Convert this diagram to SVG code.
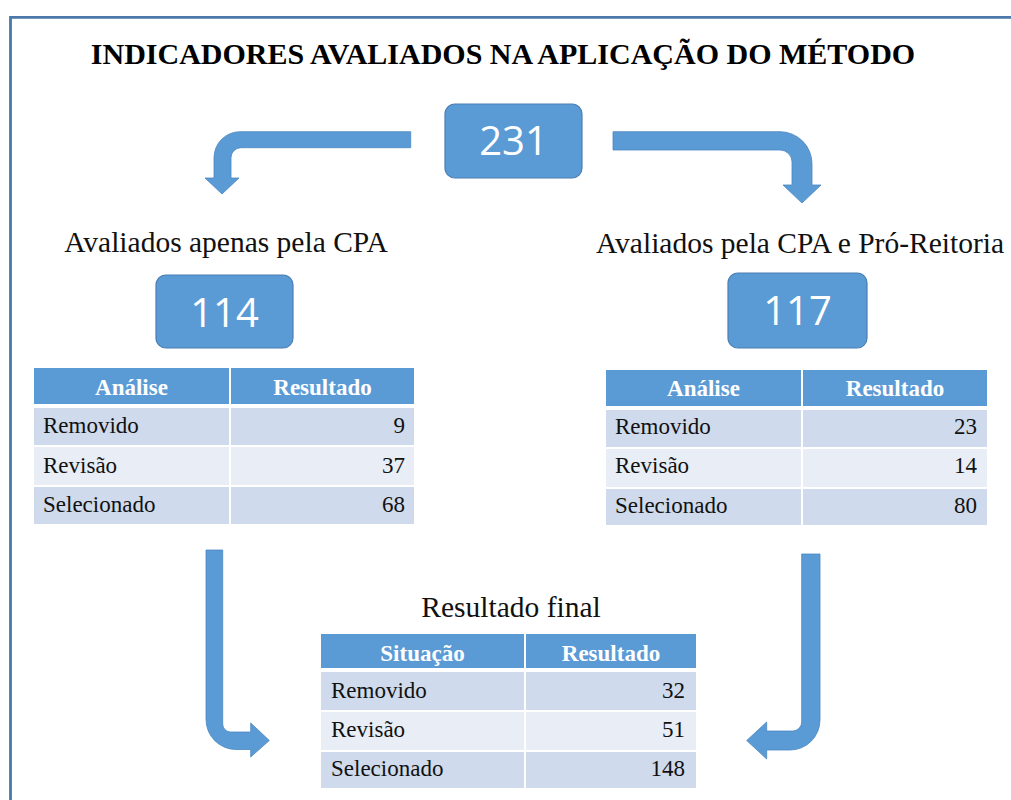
<svg xmlns="http://www.w3.org/2000/svg" width="1011" height="800" viewBox="0 0 1011 800">
<style>
.frame{fill:none;stroke:#4a78a8;stroke-width:2.8}
.arrow{fill:#5b9bd5;stroke:#4a86c2;stroke-width:0.8}
.box{fill:#5b9bd5;stroke:#4a7fb3;stroke-width:1.2}
.num{font-family:"Open Sans","Liberation Sans",sans-serif;font-size:40px;fill:#ffffff;text-anchor:middle}
.title{font-family:"Liberation Serif","Times New Roman",serif;font-size:30px;font-weight:bold;fill:#000;text-anchor:middle}
.label{font-family:"Liberation Serif","Times New Roman",serif;font-size:29.5px;fill:#111;text-anchor:middle}
.hd{fill:#5b9bd5}
.r1{fill:#cfdaec}
.r2{fill:#e8edf6}
.th{font-family:"Liberation Serif","Times New Roman",serif;font-size:23px;font-weight:bold;fill:#ffffff;text-anchor:middle}
.td{font-family:"Liberation Serif","Times New Roman",serif;font-size:23px;fill:#111}
.tn{font-family:"Liberation Serif","Times New Roman",serif;font-size:23px;fill:#111;text-anchor:end}
</style>
<rect x="0" y="0" width="1011" height="800" fill="#ffffff"/>
<path class="frame" d="M10.5,800 L10.5,17.3 L1011,17.3"/>
<text class="title" x="503" y="64">INDICADORES AVALIADOS NA APLICAÇÃO DO MÉTODO</text>

<g id="connectors">
<path class="arrow" d="M410.7,131.7 L240,131.7 A26,26 0 0 0 214,157.7 L214,178 L205,178 L222,194 L239,178 L231,178 L231,157.7 A10,10 0 0 1 241,147.7 L410.7,147.7 Z"/>
<path class="arrow" d="M613,131.7 L780,131.7 A32,32 0 0 1 812,163.7 L812,185 L821,185 L802,203 L783,185 L792,185 L792,162 A12,12 0 0 0 780,150 L613,150 Z"/>
<path class="arrow" d="M206,550 L222.7,550 L222.7,724 A8,8 0 0 0 230.7,732 L250.7,732 L250.7,723 L269.3,740.5 L250.7,757 L250.7,749.5 L236,749.5 A30,30 0 0 1 206,719.5 Z"/>
<path class="arrow" d="M820,554 L801.7,554 L801.7,722 A9,9 0 0 1 792.7,731 L766.7,731 L766.7,722 L746.7,740.5 L766.7,759 L766.7,750 L790,750 A30,30 0 0 0 820,720 Z"/>
</g>

<g id="node-231">
<rect class="box" x="445" y="104" width="137" height="74" rx="10"/>
<text class="num" x="513.5" y="155">231</text>
</g>

<g id="node-cpa">
<text class="label" x="226" y="252">Avaliados apenas pela CPA</text>
<rect class="box" x="156" y="275" width="137" height="73" rx="10"/>
<text class="num" x="224.5" y="327">114</text>
</g>

<g id="node-cpa-pro">
<text class="label" x="800" y="253">Avaliados pela CPA e Pró-Reitoria</text>
<rect class="box" x="728" y="273" width="139" height="75" rx="10"/>
<text class="num" x="797.5" y="325">117</text>
</g>

<g id="table-left">
<rect class="hd" x="34" y="368" width="195" height="36"/>
<rect class="hd" x="231" y="368" width="183" height="36"/>
<rect class="r1" x="34" y="408" width="195" height="37"/>
<rect class="r1" x="231" y="408" width="183" height="37"/>
<rect class="r2" x="34" y="447" width="195" height="38"/>
<rect class="r2" x="231" y="447" width="183" height="38"/>
<rect class="r1" x="34" y="487" width="195" height="37"/>
<rect class="r1" x="231" y="487" width="183" height="37"/>
<text class="th" x="131.5" y="395">Análise</text>
<text class="th" x="322.5" y="395">Resultado</text>
<text class="td" x="43" y="433">Removido</text>
<text class="tn" x="405" y="433">9</text>
<text class="td" x="43" y="473">Revisão</text>
<text class="tn" x="405" y="473">37</text>
<text class="td" x="43" y="512">Selecionado</text>
<text class="tn" x="405" y="512">68</text>
</g>

<g id="table-right">
<rect class="hd" x="606" y="370" width="195" height="36"/>
<rect class="hd" x="803" y="370" width="184" height="36"/>
<rect class="r1" x="606" y="410" width="195" height="37"/>
<rect class="r1" x="803" y="410" width="184" height="37"/>
<rect class="r2" x="606" y="449" width="195" height="38"/>
<rect class="r2" x="803" y="449" width="184" height="38"/>
<rect class="r1" x="606" y="489" width="195" height="36"/>
<rect class="r1" x="803" y="489" width="184" height="36"/>
<text class="th" x="703.5" y="396">Análise</text>
<text class="th" x="895" y="396">Resultado</text>
<text class="td" x="615" y="434">Removido</text>
<text class="tn" x="977" y="434">23</text>
<text class="td" x="615" y="473">Revisão</text>
<text class="tn" x="977" y="473">14</text>
<text class="td" x="615" y="513">Selecionado</text>
<text class="tn" x="977" y="513">80</text>
</g>

<g id="table-final">
<text class="label" x="511" y="617">Resultado final</text>
<rect class="hd" x="321" y="634" width="203" height="34"/>
<rect class="hd" x="526" y="634" width="170" height="34"/>
<rect class="r1" x="321" y="672" width="203" height="38"/>
<rect class="r1" x="526" y="672" width="170" height="38"/>
<rect class="r2" x="321" y="712" width="203" height="38"/>
<rect class="r2" x="526" y="712" width="170" height="38"/>
<rect class="r1" x="321" y="752" width="203" height="36"/>
<rect class="r1" x="526" y="752" width="170" height="36"/>
<text class="th" x="422.5" y="661">Situação</text>
<text class="th" x="611" y="661">Resultado</text>
<text class="td" x="331" y="698">Removido</text>
<text class="tn" x="685" y="698">32</text>
<text class="td" x="331" y="737">Revisão</text>
<text class="tn" x="685" y="737">51</text>
<text class="td" x="331" y="776">Selecionado</text>
<text class="tn" x="685" y="776">148</text>
</g>
</svg>
